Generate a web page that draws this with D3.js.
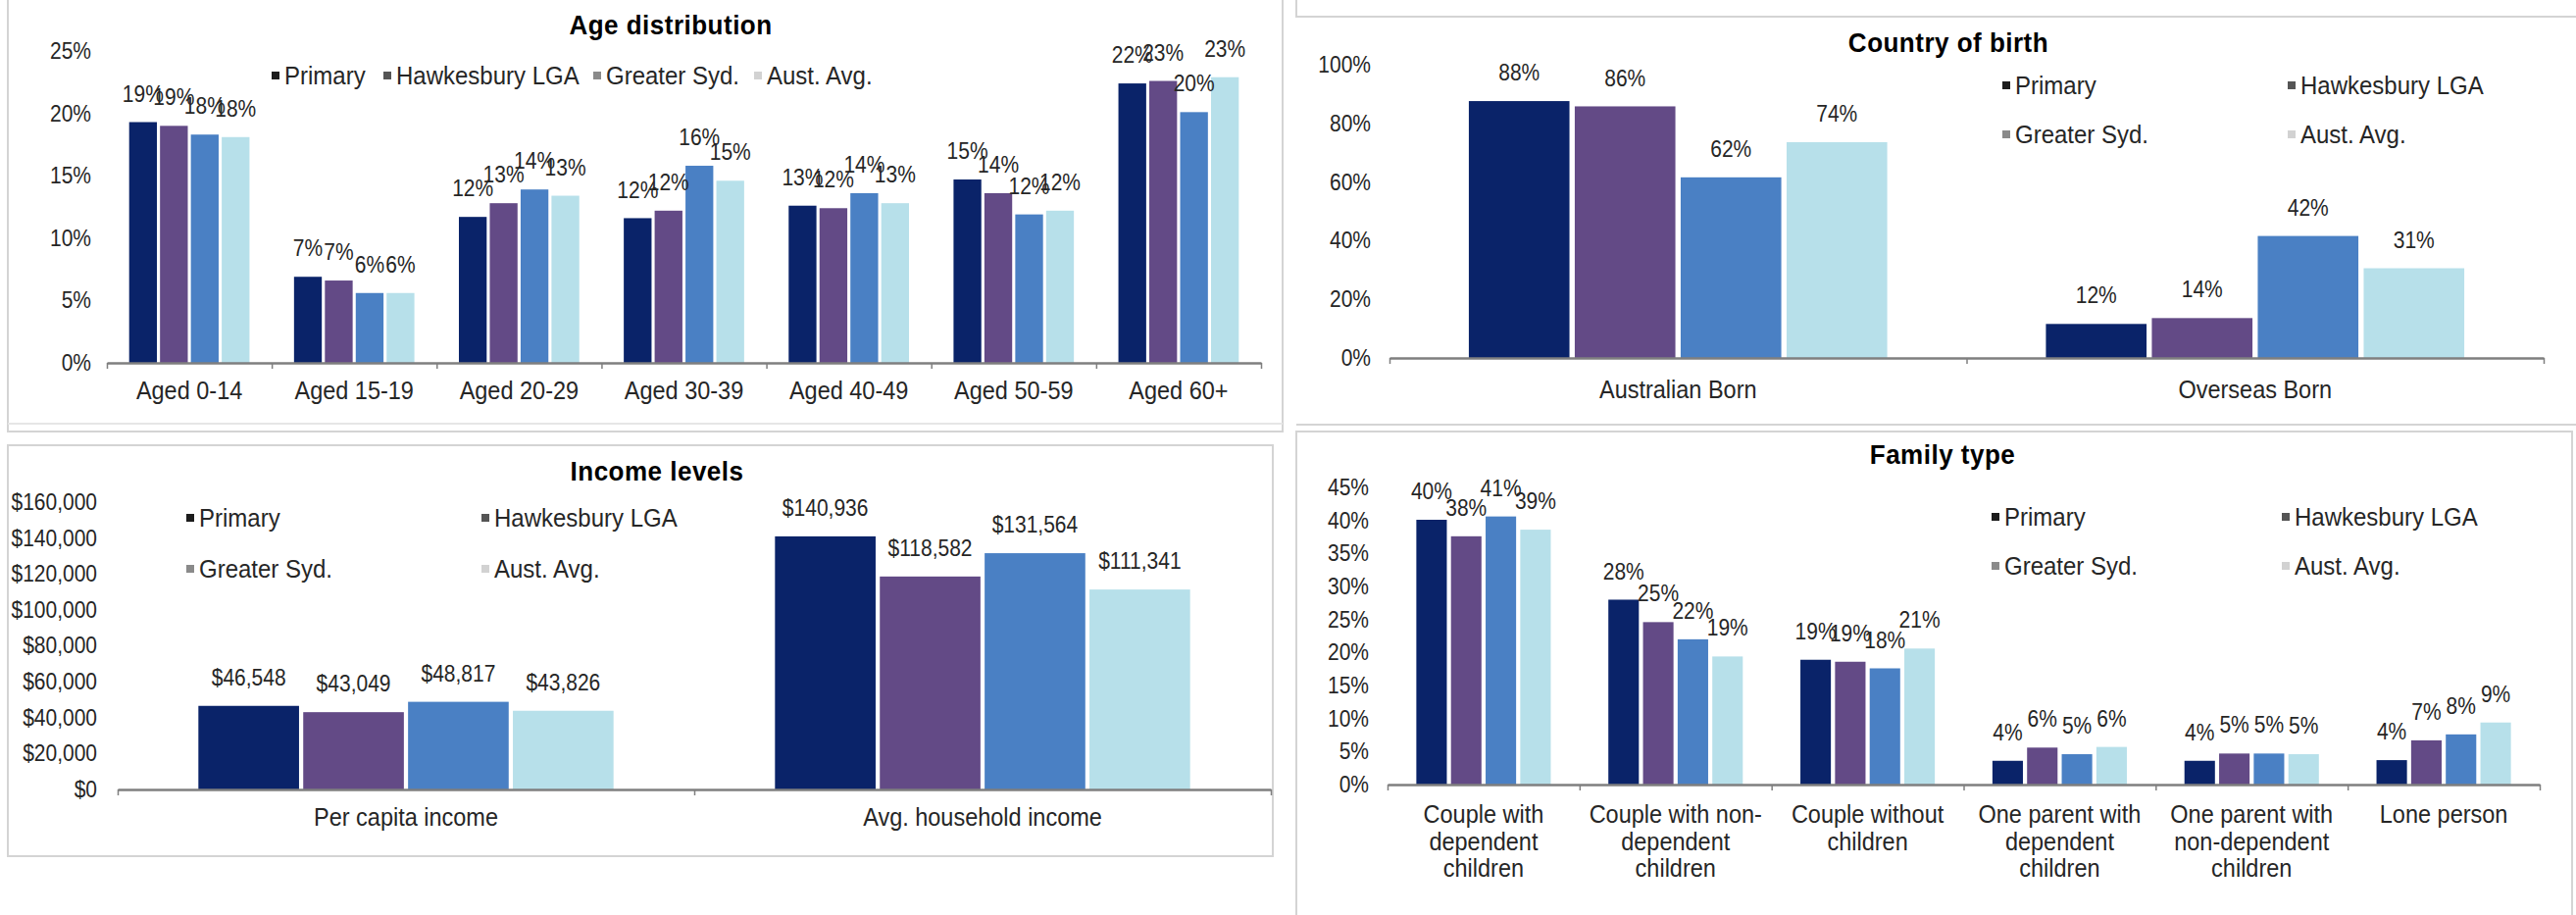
<!DOCTYPE html>
<html>
<head>
<meta charset="utf-8">
<script src="https://cdn.jsdelivr.net/npm/d3@7"></script>
<style>
  body { margin: 0; background: #ffffff; }
  svg { display: block; font-family: "Liberation Sans", Arial, sans-serif; }
</style>
</head>
<body>
<svg id="chart" width="2627" height="933"></svg>
<script>
// ---------------- DATA ----------------
const seriesNames = ["Primary", "Hawkesbury LGA", "Greater Syd.", "Aust. Avg."];

const ageCategories = ["Aged 0-14", "Aged 15-19", "Aged 20-29", "Aged 30-39", "Aged 40-49", "Aged 50-59", "Aged 60+"];
const agePrimary     = [0.193, 0.069, 0.117, 0.116, 0.126, 0.147, 0.224];
const ageHawkesbury  = [0.190, 0.066, 0.128, 0.122, 0.124, 0.136, 0.226];
const ageGreaterSyd  = [0.183, 0.056, 0.139, 0.158, 0.136, 0.119, 0.201];
const ageAustAvg     = [0.181, 0.056, 0.134, 0.146, 0.128, 0.122, 0.229];
const ageTicks       = [0, 0.05, 0.10, 0.15, 0.20, 0.25];

const birthCategories = ["Australian Born", "Overseas Born"];
const birthPrimary    = [0.876, 0.116];
const birthHawkesbury = [0.858, 0.136];
const birthGreaterSyd = [0.616, 0.416];
const birthAustAvg    = [0.736, 0.306];
const birthTicks      = [0, 0.2, 0.4, 0.6, 0.8, 1.0];

const incomeCategories = ["Per capita income", "Avg. household income"];
const incomePrimary    = [46548, 140936];
const incomeHawkesbury = [43049, 118582];
const incomeGreaterSyd = [48817, 131564];
const incomeAustAvg    = [43826, 111341];
const incomeTicks      = [0, 20000, 40000, 60000, 80000, 100000, 120000, 140000, 160000];

const familyCategories = [
  ["Couple with", "dependent", "children"],
  ["Couple with non-", "dependent", "children"],
  ["Couple without", "children"],
  ["One parent with", "dependent", "children"],
  ["One parent with", "non-dependent", "children"],
  ["Lone person"]
];
const familyPrimary    = [0.401, 0.280, 0.189, 0.036, 0.036, 0.037];
const familyHawkesbury = [0.376, 0.246, 0.186, 0.056, 0.047, 0.067];
const familyGreaterSyd = [0.406, 0.220, 0.176, 0.046, 0.047, 0.076];
const familyAustAvg    = [0.386, 0.194, 0.206, 0.057, 0.046, 0.094];
const familyTicks      = [0, 0.05, 0.10, 0.15, 0.20, 0.25, 0.30, 0.35, 0.40, 0.45];

// ---------------- STYLE ----------------
const seriesColors = ["#0a2369", "#634a86", "#4a80c4", "#b7e0ea"];
const legendMarkerColors = ["#1c1c1c", "#555555", "#8a8a8a", "#d2d2d2"];
const SY = 1.1;            // vertical stretch of the original picture's text
const TXT = "#262626";
const SIZE_TICK = 21, SIZE_CAT = 23.5, SIZE_LEG = 24, SIZE_LAB = 21;

const svg = d3.select("#chart");

function addText(g, x, y, str, o = {}) {
  return g.append("text")
    .attr("transform", `translate(${x},${y}) scale(1,${o.sy || SY})`)
    .attr("dy", "0.35em")
    .attr("text-anchor", o.anchor || "middle")
    .attr("font-size", o.size || SIZE_CAT)
    .attr("font-weight", o.weight || "normal")
    .attr("letter-spacing", o.ls || 0)
    .attr("fill", o.fill || TXT)
    .text(str);
}

// ---------------- PANEL FRAMES ----------------
const frame = svg.append("g").attr("fill", "none").attr("stroke", "#d4d4d4").attr("stroke-width", 2);
frame.append("path").attr("d", "M8,-2 V440 H1308 V-2");
frame.append("line").attr("x1", 8).attr("x2", 1308).attr("y1", 432).attr("y2", 432).attr("stroke", "#e6e6e6");
frame.append("rect").attr("x", 8).attr("y", 454).attr("width", 1290).attr("height", 419);
frame.append("path").attr("d", "M1322,-2 V17 H2627");
frame.append("line").attr("x1", 1322).attr("x2", 2627).attr("y1", 433).attr("y2", 433);
frame.append("path").attr("d", "M1322,940 V440 H2623 V940");

// ---------------- CHART BUILDER ----------------
function drawChart(c) {
  const g = svg.append("g");
  const n = c.cats.length;
  const slot = d3.scaleBand().domain(d3.range(n)).range([c.x0, c.x1]).padding(0);
  const groupW = slot.bandwidth() * c.group;
  const inner = d3.scaleBand().domain(seriesNames).range([0, groupW]).paddingInner(c.inner);
  const y = d3.scaleLinear().domain([0, c.max]).range([c.yBase, c.yTop]);
  const barX = (i, si) => slot(i) + (slot.bandwidth() - groupW) / 2 + inner(seriesNames[si]);

  // y axis (labels only)
  const yAxis = g.append("g").attr("transform", `translate(${c.x0},0)`)
    .call(d3.axisLeft(y).tickValues(c.ticks).tickFormat(c.tickFmt).tickSize(0).tickPadding(c.tickPad));
  yAxis.select(".domain").remove();
  yAxis.selectAll("text")
    .attr("font-size", SIZE_TICK).attr("fill", TXT)
    .attr("font-family", "Liberation Sans, Arial, sans-serif")
    .attr("transform", `scale(1,${SY})`);

  // bars
  c.data.forEach((vals, si) => {
    g.append("g").selectAll("rect").data(vals).join("rect")
      .attr("x", (d, i) => barX(i, si))
      .attr("width", inner.bandwidth())
      .attr("y", d => y(d))
      .attr("height", d => c.yBase - y(d))
      .attr("fill", seriesColors[si]);
  });

  // data labels
  c.data.forEach((vals, si) => {
    vals.forEach((v, i) => {
      addText(g, barX(i, si) + inner.bandwidth() / 2, y(v) - 29, c.labelFmt(v), { size: SIZE_LAB });
    });
  });

  // baseline with boundary ticks
  const xb = d3.scaleLinear().domain([0, n]).range([c.x0, c.x1]);
  const xAxis = g.append("g").attr("transform", `translate(0,${c.yBase})`)
    .call(d3.axisBottom(xb).tickValues(d3.range(n + 1)).tickFormat("").tickSize(6).tickSizeOuter(0));
  xAxis.select(".domain").attr("stroke", "#7f7f7f").attr("stroke-width", 2.5);
  xAxis.selectAll(".tick line").attr("stroke", "#7f7f7f").attr("stroke-width", 1.5);

  // category labels
  c.cats.forEach((cat, i) => {
    const lines = Array.isArray(cat) ? cat : [cat];
    lines.forEach((ln, k) => {
      addText(g, slot(i) + slot.bandwidth() / 2, c.catY + k * c.catLH, ln, { size: SIZE_CAT });
    });
  });

  // title
  addText(g, c.titleX, c.titleY, c.title, { size: 26, weight: "bold", ls: 0.5, fill: "#000", sy: 1.05 });

  // legend
  seriesNames.forEach((s, si) => {
    const lx = c.legX[si], ly = c.legY[si];
    g.append("rect").attr("x", lx - 13).attr("y", ly - 4).attr("width", 8).attr("height", 8)
      .attr("fill", legendMarkerColors[si]);
    addText(g, lx, ly, s, { size: SIZE_LEG, anchor: "start" });
  });
}

const pctFmt = d3.format(".0%");
const usdFmt = d3.format("$,.0f");

drawChart({
  title: "Age distribution", titleX: 684, titleY: 25,
  cats: ageCategories, data: [agePrimary, ageHawkesbury, ageGreaterSyd, ageAustAvg],
  ticks: ageTicks, tickFmt: pctFmt, labelFmt: pctFmt, max: 0.25,
  x0: 109, x1: 1286, yBase: 370, yTop: 52, tickPad: 16,
  group: 0.73, inner: 0.1, catY: 398, catLH: 27,
  legX: [290, 404, 618, 782], legY: [77, 77, 77, 77]
});

drawChart({
  title: "Country of birth", titleX: 1987, titleY: 43,
  cats: birthCategories, data: [birthPrimary, birthHawkesbury, birthGreaterSyd, birthAustAvg],
  ticks: birthTicks, tickFmt: pctFmt, labelFmt: pctFmt, max: 1.0,
  x0: 1417, x1: 2594, yBase: 365, yTop: 66, tickPad: 19,
  group: 0.725, inner: 0.05, catY: 397, catLH: 27,
  legX: [2055, 2346, 2055, 2346], legY: [87, 87, 137, 137]
});

drawChart({
  title: "Income levels", titleX: 670, titleY: 480,
  cats: incomeCategories, data: [incomePrimary, incomeHawkesbury, incomeGreaterSyd, incomeAustAvg],
  ticks: incomeTicks, tickFmt: usdFmt, labelFmt: usdFmt, max: 160000,
  x0: 120, x1: 1296, yBase: 805, yTop: 512, tickPad: 21,
  group: 0.72, inner: 0.04, catY: 833, catLH: 27,
  legX: [203, 504, 203, 504], legY: [528, 528, 580, 580]
});

drawChart({
  title: "Family type", titleX: 1981, titleY: 463,
  cats: familyCategories, data: [familyPrimary, familyHawkesbury, familyGreaterSyd, familyAustAvg],
  ticks: familyTicks, tickFmt: pctFmt, labelFmt: pctFmt, max: 0.45,
  x0: 1415, x1: 2590, yBase: 800, yTop: 497, tickPad: 19,
  group: 0.70, inner: 0.12, catY: 830, catLH: 27.5,
  legX: [2044, 2340, 2044, 2340], legY: [527, 527, 577, 577]
});
</script>
</body>
</html>
